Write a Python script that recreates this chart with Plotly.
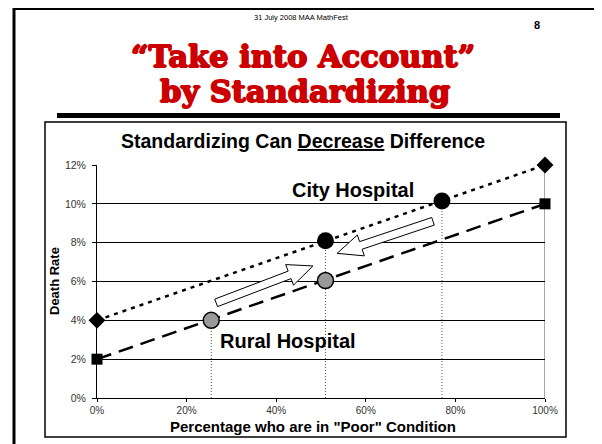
import math
import plotly.graph_objects as go

# ---- data ----
city_line_x = [0.0, 1.0]
city_line_y = [0.04, 0.12]
rural_line_x = [0.0, 1.0]
rural_line_y = [0.02, 0.10]
city_pts_x = [0.51, 0.77]
city_pts_y = [0.081, 0.1015]
rural_pts_x = [0.255, 0.51]
rural_pts_y = [0.040, 0.0605]
x_ticks = [0, 0.2, 0.4, 0.6, 0.8, 1.0]
y_ticks = [0, 0.02, 0.04, 0.06, 0.08, 0.10, 0.12]
# arrows: (tail_x, tail_y, tip_x, tip_y)
arrow_up = (0.266, 0.049, 0.482, 0.068)
arrow_down = (0.750, 0.091, 0.536, 0.0745)

OFF = 8  # page body margin
W, H = 602 - OFF, 444 - OFF
# plot area in page pixels
PL, PR, PT, PB = 97, 545, 165, 398
L, R, T, B = PL - OFF, PR - OFF, PT - OFF, PB - OFF
XMAX, YMAX = 1.0, 0.12


def px(x):  # page x -> paper
    return (x - PL) / (PR - PL)


def py(y):  # page y -> paper
    return (PB - y) / (PB - PT)


def d2p(x, y):
    return PL + x / XMAX * (PR - PL), PB - y / YMAX * (PB - PT)


def p2d(X, Y):
    return (X - PL) / (PR - PL) * XMAX, (PB - Y) / (PB - PT) * YMAX


def arrow_path(a, body=4.0, head=11.0, head_len=25.0):
    x0, y0 = d2p(a[0], a[1])
    x1, y1 = d2p(a[2], a[3])
    dx, dy = x1 - x0, y1 - y0
    ln = math.hypot(dx, dy)
    ux, uy = dx / ln, dy / ln
    nx, ny = -uy, ux
    bx, by = x1 - ux * head_len, y1 - uy * head_len
    pts = [
        (x0 + nx * body, y0 + ny * body),
        (bx + nx * body, by + ny * body),
        (bx + nx * head, by + ny * head),
        (x1, y1),
        (bx - nx * head, by - ny * head),
        (bx - nx * body, by - ny * body),
        (x0 - nx * body, y0 - ny * body),
    ]
    dpts = [p2d(X, Y) for X, Y in pts]
    return "M " + " L ".join(f"{u},{v}" for u, v in dpts) + " Z"


FONT = "Arial, Liberation Sans, sans-serif"
fig = go.Figure()

# dotted guide lines
for gx, gy in list(zip(rural_pts_x[:1], rural_pts_y[:1])) + list(zip(city_pts_x, city_pts_y)):
    fig.add_trace(go.Scatter(x=[gx, gx], y=[0, gy], mode="lines",
                             line=dict(color="#555", width=1, dash="1px,2px"),
                             showlegend=False, hoverinfo="skip"))

fig.add_trace(go.Scatter(x=city_line_x, y=city_line_y, mode="lines+markers", cliponaxis=False,
                         line=dict(color="black", width=2.5, dash="4px,5px"),
                         marker=dict(symbol="diamond", size=13, color="black"),
                         showlegend=False))
fig.add_trace(go.Scatter(x=rural_line_x, y=rural_line_y, mode="lines+markers", cliponaxis=False,
                         line=dict(color="black", width=2.5, dash="15px,8px"),
                         marker=dict(symbol="square", size=11, color="black"),
                         showlegend=False))
fig.add_trace(go.Scatter(x=city_pts_x, y=city_pts_y, mode="markers", cliponaxis=False,
                         marker=dict(symbol="circle", size=17, color="black"),
                         showlegend=False))
fig.add_trace(go.Scatter(x=rural_pts_x, y=rural_pts_y, mode="markers", cliponaxis=False,
                         marker=dict(symbol="circle", size=16, color="#999999",
                                     line=dict(color="black", width=1.5)),
                         showlegend=False))

shapes = []
for a in (arrow_up, arrow_down):
    shapes.append(dict(type="path", xref="x", yref="y", path=arrow_path(a),
                       fillcolor="white", line=dict(color="black", width=1),
                       layer="above"))
# right plot border (gray)
shapes.append(dict(type="line", xref="x", yref="y", x0=1, x1=1, y0=0, y1=0.12,
                   line=dict(color="#888", width=1.5), layer="below"))
# outer slide border
shapes.append(dict(type="rect", xref="paper", yref="paper",
                   x0=px(14), x1=px(600), y0=py(8.5), y1=py(470),
                   line=dict(color="black", width=3)))
# thick bar
shapes.append(dict(type="rect", xref="paper", yref="paper",
                   x0=px(57), x1=px(560), y0=py(113), y1=py(118),
                   fillcolor="black", line=dict(width=0)))
# chart box
shapes.append(dict(type="rect", xref="paper", yref="paper",
                   x0=px(45), x1=px(566), y0=py(122), y1=py(437),
                   line=dict(color="black", width=1.5)))

red_shadow = ("0.9px 0 0 #CC0000, -0.9px 0 0 #CC0000, 0 0.8px 0 #CC0000, "
              "0 -0.8px 0 #CC0000")


def paper_text(text, x, y, font):
    return dict(text=text, x=px(x), y=py(y), xref="paper", yref="paper",
                xanchor="center", yanchor="middle", showarrow=False, font=font)


ann = [
    paper_text("31 July 2008 MAA MathFest", 301, 18, dict(family=FONT, size=7.5, color="black")),
    paper_text("<b>8</b>", 537, 25, dict(family=FONT, size=11, color="black")),
    paper_text("<b>\u201cTake into Account\u201d</b>", 303, 56,
               dict(family="DejaVu Serif", size=30.5, color="#CC0000", shadow=red_shadow)),
    paper_text("<b>by Standardizing</b>", 305, 91.5,
               dict(family="DejaVu Serif", size=30.5, color="#CC0000", shadow=red_shadow)),
    paper_text("<b>Standardizing Can <u>Decrease</u> Difference</b>", 303, 141,
               dict(family=FONT, size=19.5, color="black")),
    paper_text("<b>Percentage who are in \"Poor\" Condition</b>", 313, 426.5,
               dict(family=FONT, size=15, color="black")),
    dict(text="<b>Death Rate</b>", x=px(54), y=py(281), xref="paper", yref="paper",
         xanchor="center", yanchor="middle", textangle=-90, showarrow=False,
         font=dict(family=FONT, size=13, color="black")),
    dict(text="<b>City Hospital</b>", x=0.571, y=0.1071, xref="x", yref="y", showarrow=False,
         xanchor="center", yanchor="middle",
         font=dict(family=FONT, size=20, color="black")),
    dict(text="<b>Rural Hospital</b>", x=0.426, y=0.0293, xref="x", yref="y", showarrow=False,
         xanchor="center", yanchor="middle",
         font=dict(family=FONT, size=20, color="black")),
]

fig.update_layout(
    width=W, height=H,
    margin=dict(l=L, r=W - R, t=T, b=H - B, pad=0),
    paper_bgcolor="white", plot_bgcolor="white",
    shapes=shapes, annotations=ann,
    xaxis=dict(range=[0, 1], tickvals=x_ticks, tickformat=".0%", showgrid=False,
               zeroline=False, showline=True, linecolor="black", linewidth=1,
               ticks="outside", ticklen=3, tickcolor="black", ticklabelstandoff=0,
               tickfont=dict(family=FONT, size=10, color="#333")),
    yaxis=dict(range=[0, 0.12], tickvals=y_ticks, tickformat=".0%", showgrid=True,
               gridcolor="black", gridwidth=1, zeroline=False, showline=True,
               linecolor="black", linewidth=1, ticks="outside", ticklen=4, tickcolor="black",
               ticklabelstandoff=4,
               tickfont=dict(family=FONT, size=10.5, color="#333")),
)

fig.write_html("out.html")
